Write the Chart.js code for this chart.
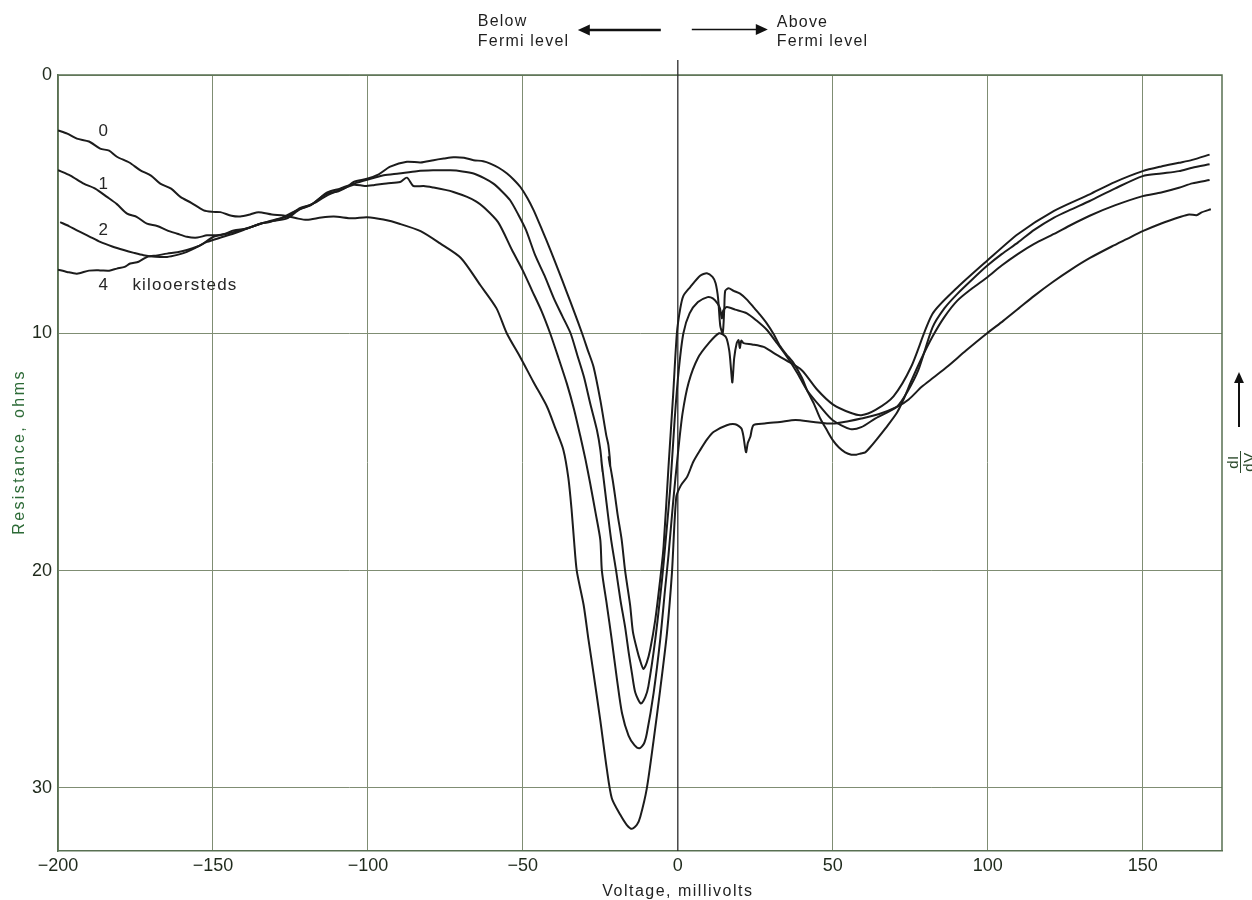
<!DOCTYPE html>
<html>
<head>
<meta charset="utf-8">
<script src="https://cdn.jsdelivr.net/npm/chart.js@4.4.1/dist/chart.umd.min.js"></script>
<style>
  html, body { margin: 0; padding: 0; background: #ffffff; }
  canvas { display: block; }
</style>
</head>
<body>
<canvas id="c" width="1252" height="900"></canvas>
<script>
// ---------------- DATA (voltage in mV, resistance in ohms) ----------------
const fieldLabels = ['0', '1', '2', '4'];
const xTickValues = [-200, -150, -100, -50, 0, 50, 100, 150];
const yTickValues = [0, 10, 20, 30];

const curve0 = [
  [-200,2.08],[-197,2.2],[-193.9,2.39],[-190,2.5],[-186.4,2.77],[-183.5,2.85],[-181,3.08],[-177,3.3],
  [-173.4,3.6],[-170,3.8],[-167,4.11],[-163.5,4.3],[-160.5,4.62],[-157,4.85],[-153,5.14],[-150,5.2],
  [-147.6,5.21],[-144,5.35],[-141.2,5.38],[-138,5.3],[-135.3,5.21],[-131,5.3],[-127.2,5.34],[-123,5.45],
  [-119.7,5.51],[-115,5.42],[-111,5.38],[-105,5.45],[-100.3,5.41],[-95,5.5],[-89.6,5.67],[-83,5.95],
  [-76.7,6.43],[-70,7.0],[-63.7,8.08],[-58.5,9.0],[-55.2,10.0],[-50.7,11.0],[-46.5,12.0],[-42.2,13.0],
  [-39.5,13.9],[-36.9,14.81],[-35.3,16.0],[-34.3,17.3],[-33.5,18.65],[-32.6,20.0],[-30.4,21.5],[-28.8,23.09],
  [-27.2,24.6],[-25.0,26.8],[-22.9,29.1],[-21.3,30.5],[-18.6,31.3],[-16.5,31.8],[-14.8,32.0],[-13.2,31.8],
  [-12.1,31.4],[-10.0,30.02],[-7.8,27.71],[-5.7,25.37],[-3.5,22.77],[-1.9,20.1],[-0.5,16.8],[1.0,16.3],
  [3.0,15.94],[5.0,15.3],[7.2,14.81],[9.5,14.35],[11.5,14.05],[15.8,13.77],[18.5,13.73],[20.5,13.9],
  [21.2,14.25],[22.0,14.9],[22.6,14.5],[23.4,14.25],[24.4,13.77],[28,13.7],[33,13.63],[38,13.55],
  [43.8,13.63],[50,13.7],[55,13.6],[59.2,13.49],[65,13.3],[70.7,13.01],[74.5,12.7],[78.7,12.18],
  [82.5,11.8],[86.8,11.37],[93,10.7],[99.8,10.0],[105,9.5],[110,9.0],[115,8.5],[121,7.95],
  [127,7.45],[133,7.0],[140,6.55],[145,6.25],[150,5.95],[156,5.65],[162,5.4],[165,5.3],
  [167.4,5.33],[169,5.22],[172,5.1]
];

const curve1 = [
  [-200,3.59],[-196,3.8],[-191.7,4.11],[-188,4.3],[-184.2,4.62],[-181,4.9],[-177.7,5.27],[-174.5,5.4],
  [-171.3,5.66],[-168,5.75],[-164.8,5.92],[-161.5,6.05],[-158.4,6.17],[-155,6.2],[-151.9,6.11],[-148.7,6.11],
  [-146,6.05],[-143.3,5.92],[-139,5.85],[-134.7,5.66],[-132,5.6],[-128,5.45],[-124,5.2],[-120,5.0],
  [-116.4,4.8],[-113,4.55],[-109,4.35],[-104.6,4.15],[-101,4.2],[-98.2,4.17],[-94,4.1],[-89.6,4.05],
  [-87.4,3.88],[-85.3,4.2],[-82,4.2],[-78.8,4.26],[-75,4.35],[-72.4,4.43],[-68,4.62],[-65,4.8],
  [-62.7,5.01],[-58,5.6],[-53.5,6.69],[-50,7.5],[-47,8.3],[-44,9.1],[-41.2,10.0],[-38.5,11.0],
  [-35.8,12.05],[-33.5,13.1],[-31.5,14.2],[-29.8,15.2],[-28.3,16.2],[-26.5,17.5],[-25.0,18.65],[-24.5,20.0],
  [-22.9,21.5],[-21.3,23.09],[-19.6,24.91],[-18.0,26.45],[-15.9,27.5],[-14,27.95],[-12.4,28.1],[-11,27.9],
  [-10.0,27.4],[-7.8,25.5],[-5.7,23.09],[-4.1,20.8],[-3.0,19.3],[-1.5,17.0],[0,15.0],[1.5,13.3],
  [3.5,12.0],[6.5,11.0],[10,10.4],[13.3,10.0],[15.5,10.15],[16.6,10.7],[17.2,11.5],[17.6,12.0],
  [18.2,11.0],[19.0,10.4],[19.6,10.28],[20.0,10.6],[20.5,10.3],[21.2,10.4],[24,10.45],[27.7,10.55],
  [31,10.8],[35,11.1],[40,11.5],[45,12.3],[50,12.9],[55.7,13.25],[59.2,13.35],[63.8,13.13],
  [69.6,12.57],[75.3,11.36],[82.2,9.22],[90.2,8.17],[99.8,7.11],[109.8,6.06],[121.4,5.16],[132.9,4.52],
  [141,4.05],[150,3.63],[156,3.45],[161.7,3.31],[166,3.2],[171.6,3.0]
];

const curve2 = [
  [-199.3,5.6],[-196.5,5.75],[-193.9,5.92],[-190,6.15],[-186.4,6.37],[-182.5,6.55],[-178.8,6.69],[-175.5,6.8],
  [-172.4,6.89],[-168.5,6.95],[-164.8,6.96],[-161.5,6.88],[-158.4,6.76],[-154,6.5],[-149.8,6.17],[-145.5,6.05],
  [-141.2,5.92],[-138,5.8],[-134.7,5.66],[-130,5.5],[-126.1,5.38],[-121.8,5.05],[-118,4.9],[-113.1,4.45],
  [-109,4.3],[-104.6,4.11],[-100,3.95],[-94.9,3.79],[-90,3.72],[-84.2,3.63],[-79,3.6],[-73.4,3.6],
  [-69.5,3.64],[-65.9,3.72],[-62.5,3.9],[-59.5,4.11],[-56.8,4.4],[-54.1,4.75],[-51.5,5.3],[-49,5.9],
  [-46,6.9],[-43,7.7],[-40,8.6],[-37.3,9.3],[-34.6,10.0],[-32.4,10.9],[-30.3,11.77],[-28.2,12.9],
  [-26.1,13.97],[-25.0,14.8],[-24.3,15.7],[-24.7,15.2],[-23.5,16.5],[-22.5,17.6],[-21.5,18.65],[-19.9,20.0],
  [-18.5,21.3],[-17.0,22.5],[-15.8,23.7],[-14.8,24.6],[-13.7,25.5],[-11.9,26.0],[-10.5,25.7],[-9.5,25.2],
  [-7.3,23.09],[-5.1,20.4],[-4.1,18.95],[-2.5,16.5],[-1,13.5],[0.3,11.5],[1.8,10.0],[3.8,9.2],
  [6.5,8.75],[9.6,8.55],[11.3,8.6],[12.8,8.8],[13.6,9.0],[14.2,9.4],[14.6,9.1],[15.8,8.95],
  [18.5,9.05],[22.3,9.2],[25.5,9.5],[28.7,9.86],[32,10.4],[35.2,10.95],[38.5,11.6],[41.7,12.32],
  [46,13.0],[50,13.56],[55.7,13.93],[59.2,13.85],[63.8,13.48],[70.7,13.0],[74,12.4],[77.6,11.5],
  [82.2,9.76],[86,9.0],[90.2,8.42],[95,7.85],[99.8,7.31],[104.5,6.85],[109.8,6.39],[115,5.9],
  [121.4,5.42],[127,5.1],[132.9,4.78],[141,4.3],[150,3.82],[156,3.72],[161.7,3.63],[166,3.5],[171.6,3.37]
];

const curve4 = [
  [-200,7.46],[-197.1,7.55],[-193.9,7.62],[-190,7.5],[-186.4,7.49],[-183.5,7.5],[-181,7.42],[-178.5,7.35],
  [-176.7,7.22],[-174,7.15],[-171.3,6.96],[-168,6.9],[-164.8,6.83],[-161.5,6.78],[-158.4,6.69],[-155,6.55],
  [-151.9,6.37],[-147.5,6.2],[-143.3,6.04],[-139,5.85],[-134.7,5.66],[-130.5,5.55],[-126.1,5.45],[-122,5.1],
  [-118.5,4.95],[-116.4,4.75],[-113.1,4.49],[-109.5,4.4],[-106.7,4.24],[-104.6,4.04],[-100.3,3.92],[-96.5,3.75],
  [-92.8,3.46],[-87.4,3.27],[-83,3.3],[-78.8,3.21],[-75.5,3.15],[-72.4,3.1],[-69,3.12],[-65.9,3.21],
  [-62.8,3.25],[-60.5,3.34],[-57.8,3.5],[-55.1,3.72],[-53,3.95],[-50.8,4.24],[-48.6,4.65],[-46.5,5.14],
  [-43.8,5.9],[-41.1,6.69],[-38.5,7.5],[-36,8.3],[-33.4,9.15],[-30.9,10.0],[-29,10.7],[-27.2,11.36],
  [-25.0,12.73],[-23.1,14.18],[-22.4,14.6],[-21.8,15.5],[-22.3,15.1],[-21.0,16.08],[-20.2,16.8],[-19.4,17.57],
  [-18.1,18.65],[-17.0,20.0],[-15.4,21.5],[-14.5,22.7],[-13.2,23.5],[-12.2,24.0],[-11.1,24.4],[-10.0,24.1],
  [-8.9,23.5],[-7.3,22.2],[-5.7,20.4],[-4.6,18.95],[-3,15.5],[-1.5,12.5],[-0.3,10.0],[0.8,9.0],
  [1.8,8.5],[4.0,8.15],[7.2,7.7],[9.4,7.6],[11.2,7.75],[12.2,8.0],[13.0,8.6],[13.7,9.7],
  [14.5,10.0],[15.0,9.0],[15.3,8.3],[16.4,8.2],[18,8.3],[20.1,8.41],[22.3,8.65],[24.4,8.95],
  [26.5,9.25],[28.7,9.6],[31,10.05],[33,10.52],[35,10.85],[37.3,11.2],[40,11.8],[42,12.4],
  [44,12.9],[46,13.5],[48,13.95],[50,14.39],[52,14.7],[54,14.9],[56,15.0],[57.6,15.0],
  [59,14.95],[60.5,14.9],[62,14.7],[64,14.39],[67,13.9],[70.7,13.25],[73,12.65],[75.3,11.95],
  [78.7,11.0],[82.2,10.13],[86,9.35],[90.2,8.69],[95,8.2],[99.8,7.77],[104.5,7.3],[109.8,6.84],
  [115,6.45],[121.4,6.06],[127,5.7],[132.9,5.35],[141,4.95],[150,4.59],[156,4.45],[161.7,4.27],
  [166,4.1],[171.6,3.97]
];

// ---------------- STYLE ----------------
const FONT = "'Liberation Sans', Arial, Helvetica, sans-serif";
const GRID = '#7f8d73';
const FRAME = '#587052';
const TICKCOL = '#1f2a1c';
const INK = '#1c1c1c';

// Nonlinear resistance axis of the original recorder chart
const WARP_C = 0.00384;
const warp = r => r - WARP_C * r * r;
const unwarp = w => (1 - Math.sqrt(1 - 4 * WARP_C * w)) / (2 * WARP_C);

class WarpedScale extends Chart.LinearScale {
  static id = 'warped';
  getPixelForValue(value) {
    if (value === null || value === undefined || isNaN(value)) return NaN;
    const a = warp(this.min), b = warp(this.max);
    return this.getPixelForDecimal((warp(value) - a) / (b - a));
  }
  getValueForPixel(pixel) {
    const a = warp(this.min), b = warp(this.max);
    return unwarp(a + this.getDecimalForPixel(pixel) * (b - a));
  }
}
Chart.register(WarpedScale);

const toXY = arr => arr.map(([v, r]) => ({ x: v, y: r }));
const fmtMinus = v => (v < 0 ? '\u2212' + Math.abs(v) : String(v));

function arrow(ctx, x1, y1, x2, y2, lw, head) {
  const ang = Math.atan2(y2 - y1, x2 - x1);
  ctx.lineWidth = lw;
  ctx.beginPath();
  ctx.moveTo(x1, y1);
  ctx.lineTo(x2 - Math.cos(ang) * head * 0.8, y2 - Math.sin(ang) * head * 0.8);
  ctx.stroke();
  ctx.beginPath();
  ctx.moveTo(x2, y2);
  ctx.lineTo(x2 - head * Math.cos(ang) + head * 0.45 * Math.sin(ang), y2 - head * Math.sin(ang) - head * 0.45 * Math.cos(ang));
  ctx.lineTo(x2 - head * Math.cos(ang) - head * 0.45 * Math.sin(ang), y2 - head * Math.sin(ang) + head * 0.45 * Math.cos(ang));
  ctx.closePath();
  ctx.fill();
}

const deco = {
  id: 'deco',
  beforeDatasetsDraw(chart) {
    const { ctx, chartArea: a } = chart;
    const xs = chart.scales.x;
    ctx.save();
    ctx.strokeStyle = FRAME;
    ctx.lineWidth = 1.5;
    ctx.beginPath();
    ctx.moveTo(a.left, a.top);
    ctx.lineTo(a.right, a.top);
    ctx.lineTo(a.right, a.bottom);
    ctx.stroke();
    const x0 = xs.getPixelForValue(0);
    ctx.strokeStyle = '#2b2b2b';
    ctx.lineWidth = 1.3;
    ctx.beginPath();
    ctx.moveTo(x0, a.top - 15);
    ctx.lineTo(x0, a.bottom);
    ctx.stroke();
    ctx.restore();
  },
  afterDraw(chart) {
    const { ctx, chartArea: a } = chart;
    const xs = chart.scales.x, ys = chart.scales.y;
    ctx.save();
    if ('letterSpacing' in ctx) ctx.letterSpacing = '1.2px';
    // curve labels
    ctx.fillStyle = '#262626';
    ctx.font = '17px ' + FONT;
    ctx.textBaseline = 'middle';
    ctx.textAlign = 'center';
    const lx = xs.getPixelForValue(-185.2);
    ctx.fillText(fieldLabels[0], lx, ys.getPixelForValue(2.11));
    ctx.fillText(fieldLabels[1], lx, ys.getPixelForValue(4.13));
    ctx.fillText(fieldLabels[2], lx, ys.getPixelForValue(5.91));
    ctx.fillText(fieldLabels[3], lx, ys.getPixelForValue(8.08));
    ctx.textAlign = 'left';
    ctx.fillText('kilooersteds', xs.getPixelForValue(-176), ys.getPixelForValue(8.08));

    // top annotations
    const x0 = xs.getPixelForValue(0);
    ctx.font = '16px ' + FONT;
    ctx.fillStyle = '#1e1e1e';
    ctx.textBaseline = 'alphabetic';
    ctx.textAlign = 'left';
    ctx.fillText('Below', x0 - 200, 26);
    ctx.fillText('Fermi level', x0 - 200, 46);
    ctx.fillText('Above', x0 + 99, 27);
    ctx.fillText('Fermi level', x0 + 99, 46);
    ctx.strokeStyle = '#111';
    ctx.fillStyle = '#111';
    arrow(ctx, x0 - 17, 30, x0 - 100, 30, 2.6, 12);
    arrow(ctx, x0 + 14, 29.5, x0 + 90, 29.5, 1.6, 12);

    // axis titles
    ctx.fillStyle = '#222';
    ctx.font = '16px ' + FONT;
    if ('letterSpacing' in ctx) ctx.letterSpacing = '1.5px';
    ctx.textAlign = 'center';
    ctx.fillText('Voltage, millivolts', (xs.getPixelForValue(0)), 896);
    ctx.save();
    ctx.translate(24, (a.top + a.bottom) / 2 - 11);
    ctx.rotate(-Math.PI / 2);
    if ('letterSpacing' in ctx) ctx.letterSpacing = '2.4px';
    ctx.fillStyle = '#2c6a36';
    ctx.fillText('Resistance, ohms', 0, 0);
    ctx.restore();

    // right side dI/dV
    ctx.strokeStyle = '#111';
    ctx.fillStyle = '#111';
    arrow(ctx, 1239, 427, 1239, 372, 2, 11);
    ctx.save();
    ctx.translate(1240, 462);
    ctx.rotate(-Math.PI / 2);
    if ('letterSpacing' in ctx) ctx.letterSpacing = '0.5px';
    ctx.fillStyle = '#2c4a2c';
    ctx.font = '15px ' + FONT;
    ctx.textAlign = 'center';
    ctx.textBaseline = 'alphabetic';
    ctx.fillText('dI', 0, -2);
    ctx.textBaseline = 'top';
    ctx.fillText('dV', 0, 2);
    ctx.strokeStyle = '#2c4a2c';
    ctx.lineWidth = 1;
    ctx.beginPath();
    ctx.moveTo(-11, 0.5);
    ctx.lineTo(11, 0.5);
    ctx.stroke();
    ctx.restore();
    ctx.restore();
  }
};

const mkSet = (label, pts) => ({
  label,
  data: toXY(pts),
  borderColor: INK,
  borderWidth: 2,
  pointRadius: 0,
  tension: 0.25,
  fill: false
});

new Chart(document.getElementById('c'), {
  type: 'line',
  data: {
    datasets: [
      mkSet(fieldLabels[0] + ' kOe', curve0),
      mkSet(fieldLabels[1] + ' kOe', curve1),
      mkSet(fieldLabels[2] + ' kOe', curve2),
      mkSet(fieldLabels[3] + ' kOe', curve4)
    ]
  },
  options: {
    responsive: false,
    animation: false,
    devicePixelRatio: 1,
    layout: { padding: { top: 75, right: 30, left: 0, bottom: 0 } },
    plugins: { legend: { display: false }, tooltip: { enabled: false }, title: { display: false } },
    scales: {
      x: {
        type: 'linear',
        min: -200,
        max: 175.6,
        afterFit: s => { s.height = 49; },
        afterBuildTicks: s => { s.ticks = xTickValues.map(v => ({ value: v })); },
        ticks: {
          stepSize: 50, includeBounds: false, padding: 4, maxRotation: 0, autoSkip: false,
          color: TICKCOL, font: { family: FONT, size: 18 },
          callback: v => fmtMinus(v)
        },
        grid: { color: c => (c.tick && c.tick.value === 0 ? 'rgba(0,0,0,0)' : GRID), lineWidth: 1, drawTicks: false },
        border: { display: true, color: FRAME, width: 1.5 },
        title: { display: false }
      },
      y: {
        type: 'warped',
        reverse: true,
        min: 0,
        max: 33.1,
        afterFit: s => { s.width = 58; },
        afterBuildTicks: s => { s.ticks = yTickValues.map(v => ({ value: v })); },
        ticks: {
          stepSize: 10, includeBounds: false, padding: 6,
          color: TICKCOL, font: { family: FONT, size: 18 },
          callback: v => fmtMinus(v)
        },
        grid: { color: GRID, lineWidth: 1, drawTicks: false },
        border: { display: true, color: FRAME, width: 1.5 },
        title: { display: false }
      }
    }
  },
  plugins: [deco]
});
</script>
</body>
</html>
